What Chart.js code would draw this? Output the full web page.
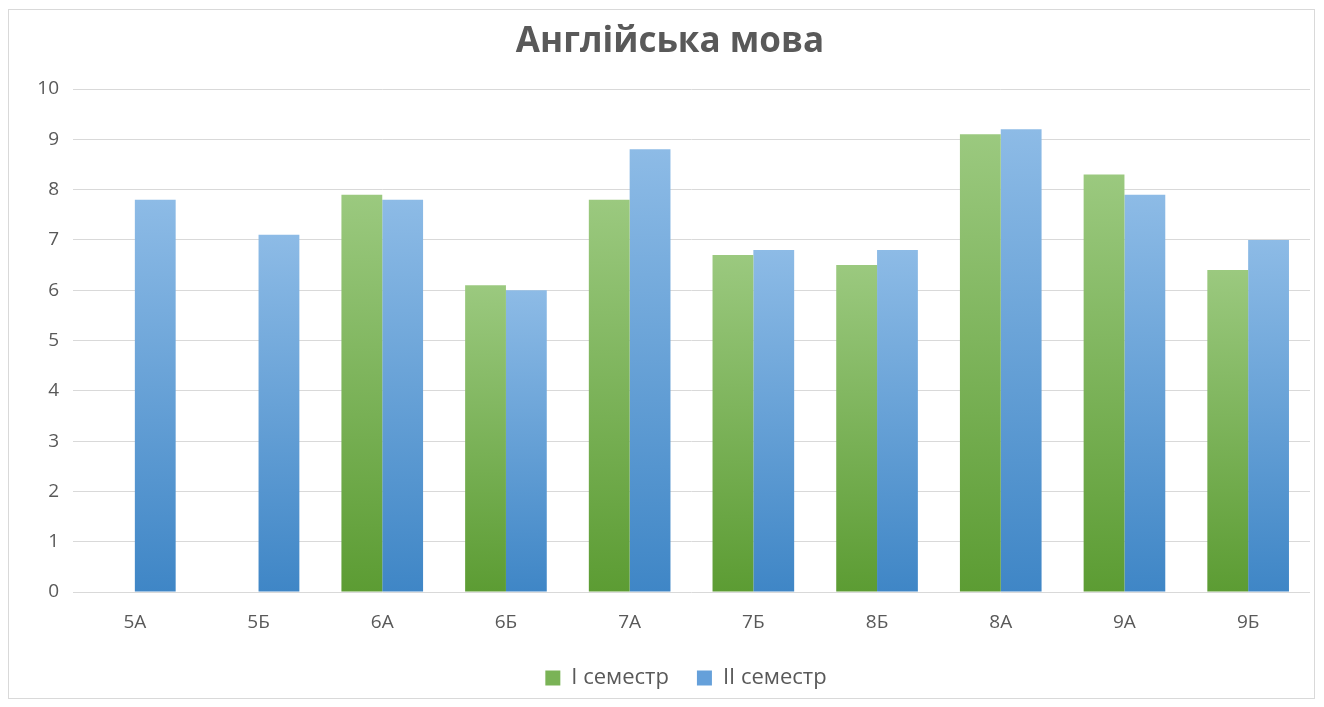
<!DOCTYPE html>
<html>
<head>
<meta charset="utf-8">
<script src="https://cdn.jsdelivr.net/npm/chart.js@4/dist/chart.umd.min.js"></script>
<style>
  html, body { margin: 0; padding: 0; background: #fff; }
  #wrap { position: relative; width: 1324px; height: 707px; }
  #frame { position: absolute; left: 8px; top: 9px; width: 1307px; height: 690px; border: 1px solid #d9d9d9; box-sizing: border-box; }
  canvas { position: absolute; left: 0; top: 0; }
</style>
</head>
<body>
<div id="wrap">
  <div id="frame"></div>
  <canvas id="chart" width="1324" height="707"></canvas>
</div>
<script>
// --- data ---
const classes = ['5А', '5Б', '6А', '6Б', '7А', '7Б', '8Б', '8А', '9А', '9Б'];
const semester1 = [null, null, 7.9, 6.1, 7.8, 6.7, 6.5, 9.1, 8.3, 6.4];
const semester2 = [7.8, 7.1, 7.8, 6.0, 8.8, 6.8, 6.8, 9.2, 7.9, 7.0];
const seriesNames = ['I семестр', 'II семестр'];

const txt = '#595959';
const fontFam = '"Open Sans", "DejaVu Sans", sans-serif';

// per-bar vertical gradient: light at top, dark at bottom
function barGradient(top, bottom) {
    return (ctx) => {
        const chart = ctx.chart;
        if (!chart.chartArea || ctx.raw == null) return bottom;
        const y = chart.scales.y;
        const y0 = y.getPixelForValue(ctx.raw);
        const y1 = y.getPixelForValue(0);
        const g = chart.ctx.createLinearGradient(0, y0, 0, y1);
        g.addColorStop(0, top);
        g.addColorStop(1, bottom);
        return g;
    };
}

const solid = ['#7ab356', '#65a0da'];

// legend sits a little right of centre in the original
const legendShift = {
    id: 'legendShift',
    afterLayout(chart) {
        chart.legend.left += 16;
        chart.legend.right += 16;
    }
};

new Chart(document.getElementById('chart'), {
    type: 'bar',
    data: {
        labels: classes,
        datasets: [{
            label: seriesNames[0],
            data: semester1,
            backgroundColor: barGradient('#9bc97f', '#5c9c33'),
            borderWidth: 0
        }, {
            label: seriesNames[1],
            data: semester2,
            backgroundColor: barGradient('#8dbbe6', '#3f86c6'),
            borderWidth: 0
        }]
    },
    options: {
        responsive: false,
        animation: false,
        layout: { padding: { left: 30, right: 14, top: 14, bottom: 8 } },
        datasets: {
            bar: { categoryPercentage: 0.66, barPercentage: 1.0 }
        },
        scales: {
            x: {
                grid: { display: false },
                border: { display: false },
                ticks: { color: txt, font: { family: fontFam, size: 19 }, padding: 11 },
                afterFit: (s) => { s.height = 47; }
            },
            y: {
                min: 0,
                max: 10,
                ticks: { stepSize: 1, color: txt, font: { family: fontFam, size: 19 }, padding: 14 },
                grid: { color: '#d9d9d9', lineWidth: 1, drawTicks: false },
                border: { display: false },
                afterFit: (s) => { s.width = 43; }
            }
        },
        plugins: {
            title: {
                display: true,
                text: 'Англійська мова',
                color: txt,
                font: { family: fontFam, size: 35, weight: 'bold' },
                padding: { top: 7, bottom: 26 }
            },
            legend: {
                position: 'bottom',
                labels: {
                    color: txt,
                    font: { family: fontFam, size: 22 },
                    boxWidth: 15,
                    boxHeight: 15,
                    padding: 28,
                    generateLabels: (chart) => chart.data.datasets.map((ds, i) => ({
                        text: ds.label,
                        fillStyle: solid[i],
                        strokeStyle: solid[i],
                        lineWidth: 0,
                        fontColor: txt,
                        datasetIndex: i,
                        hidden: false
                    }))
                }
            },
            tooltip: { enabled: false }
        }
    },
    plugins: [legendShift]
});
</script>
</body>
</html>
